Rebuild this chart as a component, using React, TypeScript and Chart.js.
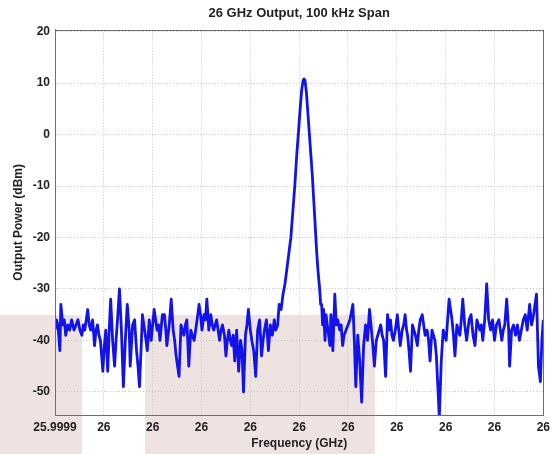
import React, { useEffect, useRef } from "react";
import { Chart, registerables } from "chart.js";

Chart.register(...registerables);

const chartTitle = "26 GHz Output, 100 kHz Span";
const xAxisTitle = "Frequency (GHz)";
const yAxisTitle = "Output Power (dBm)";

// x: offset inside the 100 kHz span (kHz); labels as printed on the axis
const xTickValues = [0, 10, 20, 30, 40, 50, 60, 70, 80, 90, 100];
const xTickLabels = ["25.9999", "26", "26", "26", "26", "26", "26", "26", "26", "26", "26"];
const yTickValues = [20, 10, 0, -10, -20, -30, -40, -50];

const leftFreq = [
  0.0, 0.3, 0.6, 1.0, 1.2, 1.6, 1.9, 2.2, 2.6, 3.0, 3.4, 3.9, 4.3, 4.7, 5.1, 5.5, 5.8, 6.1, 6.4, 6.7,
  7.0, 7.3, 7.7, 8.1, 8.4, 8.7, 9.0, 9.3, 9.8, 10.1, 10.4, 10.8, 11.1, 11.4, 11.8, 12.2, 12.5, 12.8, 13.2, 13.6,
  14.0, 14.4, 14.8, 15.2, 15.4, 15.9, 16.3, 16.7, 17.0, 17.3, 17.7, 17.9, 18.2, 18.5, 18.9, 19.3, 19.7, 20.0, 20.3, 20.6,
  20.9, 21.2, 21.5, 22.0, 22.4, 22.7, 22.9, 23.4, 23.8, 24.2, 24.5, 24.8, 25.1, 25.4, 25.8, 26.1, 26.4, 26.7, 27.0, 27.4,
  27.8, 28.1, 28.5, 28.8, 29.1, 29.5, 29.8, 30.1, 30.5, 30.8, 31.1, 31.5, 31.9, 32.2, 32.5, 32.8, 33.1, 33.4, 33.7, 34.0,
  34.3, 34.7, 35.0, 35.3, 35.6, 35.9, 36.2, 36.5, 36.8, 37.2, 37.6, 38.0, 38.3, 38.6, 39.0, 39.3, 39.6, 40.0, 40.3, 40.7,
  41.1, 41.5, 41.9, 42.3, 42.6, 42.9, 43.3, 43.7, 44.1, 44.5, 44.9, 45.2,
];
const leftPower = [
  -38, -36, -37, -42, -33, -37, -36, -39, -37, -38, -36, -38, -37, -36, -38, -39, -37, -38, -36, -34,
  -37, -38, -36, -41, -38, -37, -39, -40, -46, -41, -38, -46, -38, -32, -40, -45, -40, -36, -30, -38,
  -49, -40, -33, -38, -45, -37, -36, -42, -45, -49, -40, -35, -37, -39, -42, -36, -40, -37, -34, -36,
  -38, -37, -40, -35, -35, -38, -41, -37, -32, -38, -40, -43, -45, -47, -37, -38, -39, -37, -36, -45,
  -38, -39, -40, -38, -36, -33, -35, -38, -35, -36, -32, -38, -35, -37, -38, -37, -36, -38, -40, -38,
  -37, -39, -43, -40, -38, -40, -41, -39, -44, -38, -46, -40, -42, -50, -39, -37, -34, -38, -40, -42,
  -47, -38, -36, -43, -40, -38, -36, -42, -37, -39, -36, -38,
];

const peakFreq = [
  45.6, 45.9, 46.3, 46.7, 47.1, 47.5, 47.9, 48.3, 48.7, 49.1, 49.5, 49.9, 50.2, 50.5,
  50.8, 51.0, 51.2, 51.5, 51.8, 52.1, 52.4, 52.7, 53.0, 53.3, 53.6, 53.9, 54.2, 54.4,
];
const peakPower = [
  -37, -33, -34, -31, -29, -26, -23, -20, -15, -10, -4, 1, 5, 8.5,
  10.5, 10.8, 10.5, 8, 4, 0, -4, -8, -13, -18, -23, -27, -30, -33,
];

const rightFreq = [
  54.6, 54.8, 55.0, 55.3, 55.5, 55.9, 56.3, 56.5, 56.9, 57.3, 57.6, 57.9, 58.3, 58.6, 58.9, 59.2, 59.6, 60.0, 60.4, 61.0,
  61.3, 61.6, 62.0, 62.4, 62.8, 63.2, 63.6, 64.0, 64.4, 64.8, 65.1, 65.4, 65.8, 66.1, 66.4, 66.7, 67.0, 67.3, 67.7, 68.1,
  68.4, 68.7, 69.0, 69.3, 69.7, 70.1, 70.4, 70.7, 71.1, 71.4, 71.7, 72.0, 72.2, 72.5, 72.8, 73.2, 73.5, 73.8, 74.2, 74.5,
  74.8, 75.2, 75.5, 75.8, 76.2, 76.5, 76.8, 77.2, 77.5, 77.8, 78.1, 78.3, 78.7, 79.1, 79.5, 79.8, 80.1, 80.4, 80.7, 81.0,
  81.3, 81.6, 81.9, 82.3, 82.6, 82.9, 83.2, 83.5, 83.9, 84.3, 84.8, 85.2, 85.6, 86.0, 86.4, 86.7, 87.0, 87.3, 87.6, 88.0,
  88.4, 88.8, 89.2, 89.6, 90.0, 90.4, 90.9, 91.2, 91.5, 91.8, 92.1, 92.5, 92.9, 93.1, 93.5, 93.9, 94.3, 94.7, 95.1, 95.5,
  95.9, 96.3, 96.7, 97.2, 97.6, 98.0, 98.3, 98.6, 99.0, 99.4, 99.7, 100.0,
];
const rightPower = [
  -33, -37, -34, -40, -35, -38, -41, -35, -42, -31, -37, -36, -38, -37, -41, -39, -38, -37, -36, -33,
  -40, -49, -39, -44, -52, -41, -37, -40, -34, -38, -41, -45, -40, -39, -38, -37, -39, -40, -47, -35,
  -38, -36, -39, -40, -38, -35, -38, -41, -38, -37, -35, -38, -39, -42, -46, -37, -38, -39, -41, -38,
  -36, -35, -37, -39, -38, -40, -44, -38, -39, -40, -43, -47, -55, -44, -38, -39, -40, -36, -32, -34,
  -36, -39, -43, -37, -38, -39, -36, -32, -37, -40, -36, -35, -39, -41, -36, -37, -38, -37, -40, -36,
  -29, -36, -38, -36, -40, -37, -36, -38, -40, -38, -37, -32, -38, -45, -38, -37, -39, -37, -40, -38,
  -36, -35, -38, -33, -37, -35, -33, -31, -45, -48, -40, -36,
];

const fontFamily = "'Liberation Sans', Arial, sans-serif";

const frameBox = {
  id: "frameBox",
  afterDraw(chart: any) {
    const { ctx, chartArea } = chart;
    ctx.save();
    ctx.strokeStyle = "#6e6e6e";
    ctx.lineWidth = 1;
    ctx.strokeRect(
      Math.round(chartArea.left) + 0.5,
      Math.round(chartArea.top) + 0.5,
      Math.round(chartArea.right - chartArea.left),
      Math.round(chartArea.bottom - chartArea.top)
    );
    ctx.restore();
  },
};

export default function App() {
  const canvasRef = useRef<HTMLCanvasElement | null>(null);

  useEffect(() => {
    if (!canvasRef.current) return;
    const freq = [...leftFreq, ...peakFreq, ...rightFreq];
    const power = [...leftPower, ...peakPower, ...rightPower];
    const points = freq.map((f, i) => ({ x: f, y: power[i] }));

    const chart = new Chart(canvasRef.current, {
      type: "line",
      data: {
        datasets: [
          {
            data: points,
            borderColor: "#1212ea",
            borderWidth: 2.8,
            borderJoinStyle: "round",
            pointRadius: 0,
            tension: 0,
            fill: false,
          },
        ],
      },
      options: {
        animation: false,
        responsive: false,
        maintainAspectRatio: false,
        layout: { padding: { left: 0, right: 10, top: 0, bottom: 0 } },
        plugins: {
          legend: { display: false },
          tooltip: { enabled: false },
          title: {
            display: true,
            text: chartTitle,
            fullSize: false,
            color: "#222",
            font: { family: fontFamily, size: 13, weight: "bold" },
            padding: { top: 6, bottom: 8 },
          },
        },
        scales: {
          x: {
            type: "linear",
            min: 0,
            max: 100,
            afterBuildTicks: (s: any) => {
              s.ticks = xTickValues.map((v) => ({ value: v }));
            },
            afterFit: (s: any) => {
              s.height = 39;
            },
            ticks: {
              autoSkip: false,
              maxRotation: 0,
              padding: 5,
              color: "#222",
              font: { family: fontFamily, size: 12, weight: "bold" },
              callback: (_v: any, i: number) => xTickLabels[i],
            },
            grid: { color: "#c4c4c4", drawTicks: false, lineWidth: 1 },
            border: { color: "#6e6e6e", dash: [1, 2] },
            title: {
              display: true,
              text: xAxisTitle,
              color: "#222",
              font: { family: fontFamily, size: 12, weight: "bold" },
              padding: { top: 0, bottom: 3 },
            },
          },
          y: {
            min: -54.5,
            max: 20.4,
            afterBuildTicks: (s: any) => {
              s.ticks = yTickValues.map((v) => ({ value: v }));
            },
            afterFit: (s: any) => {
              s.width = 55;
            },
            ticks: {
              padding: 5,
              color: "#222",
              font: { family: fontFamily, size: 12, weight: "bold" },
              callback: (v: any) => String(v),
            },
            grid: { color: "#c4c4c4", drawTicks: false, lineWidth: 1 },
            border: { color: "#6e6e6e", dash: [1, 2] },
            title: {
              display: true,
              text: yAxisTitle,
              color: "#222",
              font: { family: fontFamily, size: 12, weight: "bold" },
              padding: { top: 11, bottom: 0 },
            },
          },
        },
      },
      plugins: [frameBox],
    });
    return () => chart.destroy();
  }, []);

  const pink = "#efe3e2";
  return (
    <div style={{ position: "fixed", left: 0, top: 0, width: 555, height: 454, background: "#ffffff" }}>
      <div style={{ position: "absolute", left: 0, top: 315, width: 82, height: 139, background: pink }} />
      <div style={{ position: "absolute", left: 145, top: 315, width: 230, height: 139, background: pink }} />
      <canvas
        ref={canvasRef}
        width={555}
        height={454}
        style={{ position: "absolute", left: 0, top: 0, width: 555, height: 454 }}
      />
    </div>
  );
}
